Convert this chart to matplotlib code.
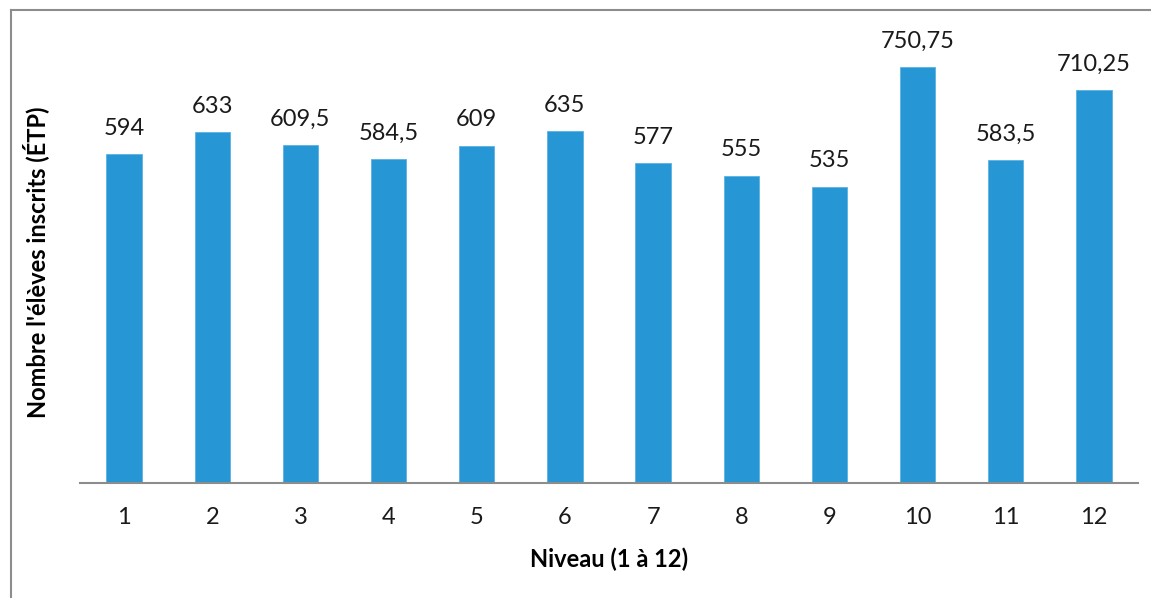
import matplotlib.pyplot as plt
from matplotlib.lines import Line2D

# données : nombre d'élèves inscrits (ÉTP) par niveau
niveaux = ["1", "2", "3", "4", "5", "6", "7", "8", "9", "10", "11", "12"]
eleves = [594, 633, 609.5, 584.5, 609, 635, 577, 555, 535, 750.75, 583.5, 710.25]
etiquettes = ["594", "633", "609,5", "584,5", "609", "635", "577", "555", "535",
              "750,75", "583,5", "710,25"]

plt.rcParams['font.family'] = ['Lato', 'DejaVu Sans']

fig = plt.figure(figsize=(11.51, 5.98), dpi=100)
W, H = 1151, 598
ax = fig.add_axes([80 / W, 1 - 483 / H, (1138 - 80) / W, (483 - 40) / H])

x = list(range(1, len(niveaux) + 1))
bars = ax.bar(x, eleves, width=0.4, color="#2796D4", edgecolor="#5AB2E2", linewidth=0.6)

for b, lab in zip(bars, etiquettes):
    ax.annotate(lab, (b.get_x() + b.get_width() / 2, b.get_height()),
                xytext=(0, 11), textcoords="offset points",
                ha="center", va="bottom", fontsize=17, color="#1a1a1a")

ax.set_xlim(0.5, 12.5)
ax.set_ylim(0, 800)
ax.set_xticks(x)
ax.set_xticklabels(niveaux, fontsize=17, color="#1a1a1a")
ax.tick_params(axis="x", length=0, pad=17)
ax.set_yticks([])
for s in ["left", "right", "top"]:
    ax.spines[s].set_visible(False)
ax.spines["bottom"].set_color("#8c8c8c")
ax.spines["bottom"].set_linewidth(1.5)

ax.set_xlabel("Niveau (1 à 12)", fontsize=17, fontweight="bold", labelpad=14)
fig.text(36 / W, 1 - 262 / H, "Nombre l'élèves inscrits (ÉTP)", rotation=90,
         ha="center", va="center", fontsize=17, fontweight="bold")

# cadre gris (gauche et haut)
fig.add_artist(Line2D([11 / W, 11 / W], [0, 1 - 10 / H], color="#8c8c8c", lw=1.5))
fig.add_artist(Line2D([11 / W, 1], [1 - 10 / H, 1 - 10 / H], color="#8c8c8c", lw=1.5))

fig.savefig("out.png", dpi=100)
